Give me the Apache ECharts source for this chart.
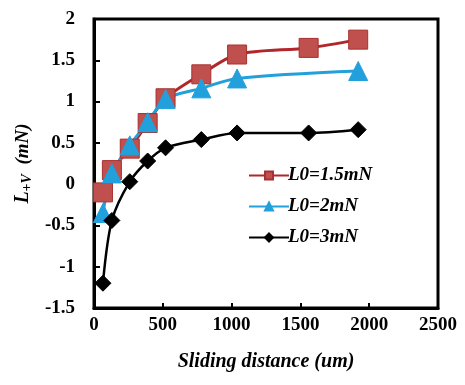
<!DOCTYPE html>
<html><head><meta charset="utf-8">
<script src="https://cdn.jsdelivr.net/npm/echarts@6/dist/echarts.min.js"></script>
<style>html,body{margin:0;padding:0;background:#fff}#c{width:465px;height:385px}</style>
</head><body><div id="c"></div>
<script>
const xTicks = [0, 500, 1000, 1500, 2000, 2500];
const yTicks = [-1.5, -1, -0.5, 0, 0.5, 1, 1.5, 2];
const names = ['L0=1.5mN', 'L0=2mN', 'L0=3mN'];
const xRed = [65, 130, 260, 390, 520, 780, 1040, 1560, 1920];
const yRed = [-0.1, 0.17, 0.43, 0.74, 1.04, 1.33, 1.57, 1.65, 1.75];
const xBlue = [65, 130, 260, 390, 520, 780, 1040, 1920];
const yBlue = [-0.35, 0.13, 0.47, 0.75, 1.03, 1.16, 1.28, 1.37];
const xBlack = [65, 130, 260, 390, 520, 780, 1040, 1560, 1920];
const yBlack = [-1.2, -0.44, 0.03, 0.28, 0.44, 0.54, 0.62, 0.62, 0.66];

const pair = (xs, ys) => xs.map((x, i) => [x, ys[i]]);
const font = '"Liberation Serif", "Times New Roman", serif';
const chart = echarts.init(document.getElementById('c'));
chart.setOption({
  animation: false,
  grid: { left: 94, right: 27, top: 19, bottom: 77, show: true, borderColor: '#000', borderWidth: 3 },
  xAxis: {
    type: 'value', min: xTicks[0], max: xTicks[xTicks.length - 1], interval: 500,
    axisLine: { show: true, onZero: false, lineStyle: { color: '#000', width: 3 } },
    axisTick: { show: true, inside: true, length: 5, lineStyle: { color: '#000', width: 2 } },
    splitLine: { show: false },
    axisLabel: { color: '#000', fontFamily: font, fontWeight: 'bold', fontSize: 19, margin: 8, formatter: v => String(v) },
    name: 'Sliding distance (um)', nameLocation: 'middle', nameGap: 44,
    nameTextStyle: { color: '#000', fontFamily: font, fontWeight: 'bold', fontStyle: 'italic', fontSize: 20 }
  },
  yAxis: {
    type: 'value', min: yTicks[0], max: yTicks[yTicks.length - 1], interval: 0.5,
    axisLine: { show: true, onZero: false, lineStyle: { color: '#000', width: 3 } },
    axisTick: { show: true, inside: true, length: 6, lineStyle: { color: '#000', width: 2 } },
    splitLine: { show: false },
    axisLabel: { color: '#000', fontFamily: font, fontWeight: 'bold', fontSize: 19, margin: 19, formatter: v => String(v) },
    name: '{a|L}{b|+V}{c|  (mN)}', nameLocation: 'middle', nameGap: 58, nameRotate: 90,
    nameTextStyle: {
      color: '#000', fontFamily: font, fontWeight: 'bold', fontStyle: 'italic', fontSize: 18,
      rich: {
        a: { fontFamily: font, fontWeight: 'bold', fontStyle: 'italic', fontSize: 20, color: '#000' },
        b: { fontFamily: font, fontWeight: 'bold', fontStyle: 'italic', fontSize: 14, color: '#000', verticalAlign: 'bottom', padding: [8, 0, 0, 0] },
        c: { fontFamily: font, fontWeight: 'bold', fontStyle: 'italic', fontSize: 19, color: '#000' }
      }
    }
  },
  legend: {
    orient: 'vertical', left: 243, top: 161, itemWidth: 40, itemHeight: 10, itemGap: 12,
    textStyle: { color: '#000', fontFamily: font, fontWeight: 'bold', fontStyle: 'italic', fontSize: 19, padding: [0, 0, 0, -6] },
    data: names
  },
  series: [
    {
      name: names[0], type: 'line', smooth: 0.3, data: pair(xRed, yRed),
      symbol: 'rect', symbolSize: 19,
      lineStyle: { color: '#B0262B', width: 3 },
      itemStyle: { color: '#C0504D', borderColor: '#A8302E', borderWidth: 1 }
    },
    {
      name: names[1], type: 'line', smooth: 0.3, data: pair(xBlue, yBlue),
      symbol: 'triangle', symbolSize: 19,
      lineStyle: { color: '#22A0DC', width: 3 },
      itemStyle: { color: '#22A0DC', borderColor: '#22A0DC', borderWidth: 1 }
    },
    {
      name: names[2], type: 'line', smooth: 0.3, data: pair(xBlack, yBlack),
      symbol: 'diamond', symbolSize: 16,
      lineStyle: { color: '#000', width: 2.5 },
      itemStyle: { color: '#000', borderColor: '#000', borderWidth: 1 }
    }
  ]
});
</script></body></html>
